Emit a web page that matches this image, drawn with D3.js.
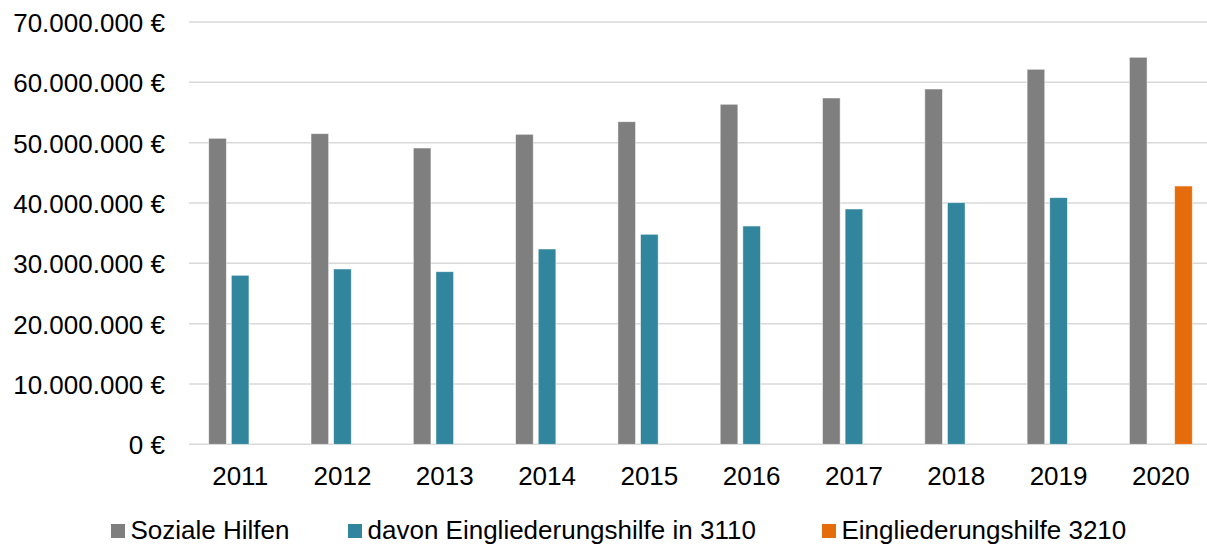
<!DOCTYPE html>
<html>
<head>
<meta charset="utf-8">
<script src="https://cdn.jsdelivr.net/npm/d3@7"></script>
<style>
  html, body { margin: 0; padding: 0; background: #fff; }
  svg { display: block; font-family: "Liberation Sans", Arial, sans-serif; }
</style>
</head>
<body>
<svg id="chart" width="1207" height="545"></svg>
<script>
// Jahre und Beträge in Euro
const years = ["2011","2012","2013","2014","2015","2016","2017","2018","2019","2020"];
const sozialeHilfen = [50720000, 51490000, 49110000, 51380000, 53470000, 56360000, 57400000, 58890000, 62160000, 64150000];
const eingliederung3110 = [28010000, 29060000, 28610000, 32370000, 34810000, 36180000, 39000000, 40050000, 40880000, null];
const eingliederung3210 = [null, null, null, null, null, null, null, null, null, 42810000];
const seriesNames = ["Soziale Hilfen", "davon Eingliederungshilfe in 3110", "Eingliederungshilfe 3210"];
const seriesColors = ["#7f7f7f", "#31859c", "#e46c0a"];
const yTicks = [0, 10000000, 20000000, 30000000, 40000000, 50000000, 60000000, 70000000];

(function () {
  const svg = d3.select("#chart");
  const plotLeft = 189, plotRight = 1212, plotTop = 22, plotBottom = 444.3;
  const fontSize = 26;

  const x = d3.scaleBand().domain(years).range([plotLeft, plotRight]).paddingInner(0).paddingOuter(0);
  const y = d3.scaleLinear().domain([0, 70000000]).range([plotBottom, plotTop]);

  // Slots within each year: three bars with a small gap between them
  const slot = d3.scaleBand().domain([0, 1, 2]).range([0, x.bandwidth()]).paddingInner(0.221).paddingOuter(0.872);

  const fmt = v => (v === 0 ? "0" : d3.format(",")(v).replace(/,/g, ".")) + " €";

  // Gridlines
  svg.append("g")
    .selectAll("line")
    .data(yTicks)
    .join("line")
    .attr("x1", plotLeft).attr("x2", plotRight)
    .attr("y1", d => y(d)).attr("y2", d => y(d))
    .attr("stroke", "#d9d9d9").attr("stroke-width", 1.5);

  // Y axis labels
  const yAxis = d3.axisLeft(y).tickValues(yTicks).tickFormat(fmt).tickSize(0).tickPadding(24);
  const yg = svg.append("g").attr("transform", `translate(${plotLeft},0)`).call(yAxis);
  yg.select(".domain").remove();
  yg.selectAll("text").attr("font-size", fontSize).attr("fill", "#000")
    .attr("font-family", "Liberation Sans, Arial, sans-serif").attr("dy", "0.36em");

  // X axis labels
  const xAxis = d3.axisBottom(x).tickSize(0).tickPadding(22);
  const xg = svg.append("g").attr("transform", `translate(0,${plotBottom})`).call(xAxis);
  xg.select(".domain").remove();
  xg.selectAll("text").attr("font-size", fontSize).attr("fill", "#000")
    .attr("font-family", "Liberation Sans, Arial, sans-serif");

  // Bars
  const allSeries = [sozialeHilfen, eingliederung3110, eingliederung3210];
  allSeries.forEach((vals, si) => {
    svg.append("g")
      .selectAll("rect")
      .data(years.map((yr, i) => ({ yr, v: vals[i] })).filter(d => d.v != null))
      .join("rect")
      .attr("x", d => x(d.yr) + slot(si))
      .attr("width", slot.bandwidth())
      .attr("y", d => y(d.v))
      .attr("height", d => y(0) - y(d.v))
      .attr("fill", seriesColors[si])
      .attr("stroke", "#ffffff").attr("stroke-opacity", 0.6).attr("stroke-width", 0.8);
  });

  // Legend
  const legendX = [111, 348, 822];
  const lg = svg.append("g");
  seriesNames.forEach((name, i) => {
    const g = lg.append("g").attr("transform", `translate(${legendX[i]},539)`);
    g.append("rect").attr("x", 0).attr("y", -15).attr("width", 14).attr("height", 14).attr("fill", seriesColors[i]);
    g.append("text").attr("x", 19.5).attr("y", 0)
      .attr("font-size", fontSize).attr("fill", "#000").text(name);
  });
})();
</script>
</body>
</html>
